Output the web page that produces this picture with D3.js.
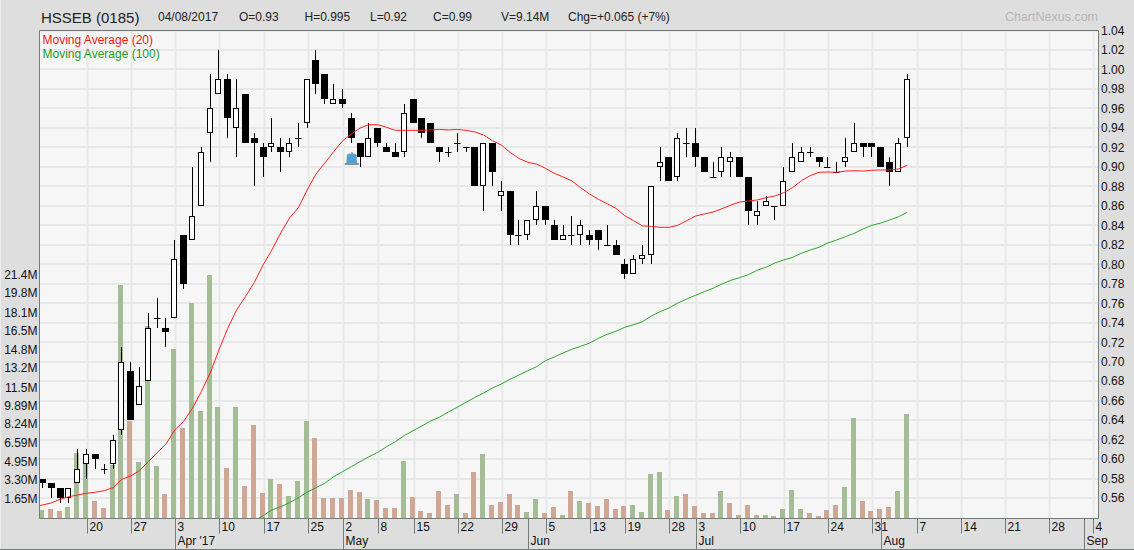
<!DOCTYPE html>
<html>
<head>
<meta charset="utf-8">
<script src="https://cdnjs.cloudflare.com/ajax/libs/d3/7.8.5/d3.min.js"></script>
<style>
html,body{margin:0;padding:0;background:#dedede;overflow:hidden}
svg{display:block}
text{font-family:"Liberation Sans",Arial,sans-serif}
</style>
</head>
<body>
<svg id="chart" width="1134" height="550"></svg>
<script>
const title = "HSSEB (0185)";
const headerTexts = ["04/08/2017","O=0.93","H=0.995","L=0.92","C=0.99","V=9.14M","Chg=+0.065 (+7%)"];
const open  = [.58,.575,.57,.56,.575,.595,.605,.59,.595,.63,.69,.655,.68,.745,.735,.745,.83,.825,.86,.935,.975,.99,.94,.975,.93,.92,.92,.92,.915,.93,.945,1.01,.995,.965,.97,.95,.925,.91,.94,.92,.915,.915,.97,.95,.945,.92,.915,.925,.92,.92,.88,.925,.87,.875,.83,.83,.845,.86,.84,.825,.83,.83,.83,.835,.82,.82,.80,.79,.805,.81,.90,.91,.89,.925,.925,.91,.89,.895,.905,.91,.89,.85,.86,.86,.86,.895,.905,.915,.91,.90,.895,.905,.915,.925,.925,.92,.905,.895,.93];
const high  = [.58,.575,.57,.57,.61,.61,.605,.595,.625,.715,.70,.695,.75,.765,.745,.825,.83,.90,.92,.995,1.02,.995,.99,.975,.935,.925,.95,.93,.93,.945,.99,1.02,.995,.985,.98,.955,.925,.945,.94,.925,.925,.965,.97,.95,.945,.92,.92,.935,.92,.92,.925,.925,.885,.875,.845,.845,.875,.86,.845,.84,.85,.845,.835,.835,.84,.825,.805,.81,.82,.88,.92,.91,.935,.94,.94,.91,.905,.92,.915,.91,.89,.865,.87,.86,.90,.925,.92,.92,.91,.91,.905,.93,.945,.925,.925,.92,.91,.93,.995];
const low   = [.57,.56,.555,.555,.575,.58,.59,.585,.59,.625,.64,.655,.68,.735,.715,.745,.775,.825,.86,.905,.975,.93,.91,.925,.88,.89,.915,.895,.91,.92,.94,.975,.965,.965,.96,.925,.90,.91,.92,.915,.91,.91,.945,.93,.925,.905,.91,.915,.915,.88,.855,.88,.855,.82,.82,.825,.84,.84,.825,.825,.82,.82,.82,.815,.82,.81,.785,.79,.80,.80,.885,.885,.885,.91,.90,.895,.89,.89,.89,.89,.84,.84,.86,.845,.86,.895,.905,.91,.90,.90,.895,.90,.915,.91,.91,.90,.88,.895,.92];
const close = [.575,.57,.56,.57,.59,.605,.60,.59,.62,.70,.64,.675,.735,.745,.73,.805,.78,.85,.915,.96,.99,.95,.96,.925,.925,.91,.925,.915,.925,.93,.99,.985,.97,.97,.965,.93,.91,.93,.925,.915,.91,.955,.945,.935,.925,.915,.915,.925,.92,.88,.925,.895,.875,.83,.83,.845,.86,.845,.825,.83,.83,.84,.825,.825,.82,.81,.79,.805,.81,.88,.905,.885,.93,.925,.91,.895,.89,.91,.91,.89,.855,.855,.865,.86,.885,.91,.915,.915,.905,.90,.895,.91,.925,.92,.92,.90,.895,.925,.99];
const volume = [.66,.75,.57,.93,5.69,5.52,1.46,.84,4.63,20.5,8.52,4.9,16.9,4.55,2.07,14.9,7.9,18.9,9.4,21.4,9.75,4.37,9.75,2.78,8.16,2.16,3.4,2.96,1.9,3.22,8.52,7.02,1.72,1.72,1.72,2.43,2.25,1.63,1.54,.84,.84,4.99,1.81,.57,.4,2.34,1.1,2.07,.4,4.02,5.6,1.1,1.37,2.07,1.1,.49,1.63,.4,.93,.22,2.34,1.46,1.28,1.02,1.63,.75,1.02,1.1,.49,3.84,4.02,.66,1.9,2.07,1.02,.4,.4,2.34,1.28,.22,1.1,.22,.22,.13,.75,2.43,.75,.4,.13,.66,1.1,2.69,8.78,1.46,.57,.75,.93,2.34,9.14];
// moving average readings: ma20 starts one session before the first candle, ma100 at session 24
const ma20 = [.551,.5528,.5549,.5587,.5613,.5631,.5648,.5659,.5675,.5706,.5792,.5826,.588,.5973,.6065,.6154,.6298,.6387,.6521,.6691,.688,.712,.7342,.753,.7667,.7811,.7992,.8146,.8321,.8475,.858,.8762,.8926,.9039,.9155,.9265,.9337,.9399,.9433,.9433,.9406,.9375,.9375,.9375,.9375,.9378,.9385,.9378,.9385,.9375,.9358,.9327,.9268,.9224,.9149,.9086,.9047,.9029,.8985,.8934,.8896,.8855,.8786,.8721,.8667,.8621,.8574,.8498,.8447,.8393,.839,.8379,.8379,.84,.8447,.8495,.8516,.8536,.857,.8608,.8639,.8649,.866,.8683,.8701,.8735,.8786,.8858,.8909,.8944,.8947,.8944,.8957,.896,.8957,.8965,.8968,.8968,.8978,.9016];
const ma100 = [.5364,.5418,.5477,.5511,.5552,.5603,.5659,.5706,.5751,.5819,.587,.5921,.5973,.6024,.6069,.6127,.6178,.624,.6291,.6339,.6391,.6429,.6483,.6531,.6583,.6632,.6678,.6729,.677,.6819,.6863,.6907,.6948,.701,.7048,.7089,.7127,.7158,.7191,.724,.7281,.7312,.7353,.7379,.741,.7469,.7513,.7551,.7602,.7643,.7681,.7718,.7753,.7797,.7835,.7862,.7893,.7938,.7969,.8013,.8044,.8071,.8112,.8146,.8174,.8218,.8249,.8283,.8318,.8362,.84,.8423,.8454,.8488,.8533];
const priceTicks = [.56,.58,.60,.62,.64,.66,.68,.70,.72,.74,.76,.78,.80,.82,.84,.86,.88,.90,.92,.94,.96,.98,1.00,1.02,1.04];
const volumeTicks = ["1.65M","3.30M","4.95M","6.59M","8.24M","9.89M","11.5M","13.2M","14.8M","16.5M","18.1M","19.8M","21.4M"];
const dayTickIndex = [5,10,15,20,25,30,34,38,42,47,52,57,62,66,71,74,79,84,89,94,99,104,109,114,119];
const dayTickLabels = ["20","27","3","10","17","25","2","8","15","22","29","5","13","19","28","3","10","17","24","31","7","14","21","28","4"];
const monthTickIndex = [15,34,55,74,95,118];
const monthTickLabels = ["Apr '17","May","Jun","Jul","Aug","Sep"];
const legendLabels = ["Moving Average (20)","Moving Average (100)"];
const bellIndex = 35, bellPrice = 0.905;

const W=1134,H=550,L=39.5,T=30.5,R=1098.5,B=518.5;
const svg=d3.select("#chart");
const x=d3.scaleLinear().domain([0,98]).range([42.4,907.25]);
const y=d3.scaleLinear().domain([.56,1.04]).range([498,30.5]);
const v=d3.scaleLinear().domain([0,21.4]).range([517.5,275]);
const snap=n=>Math.floor(n)+.5;
const tickX=i=>snap(x(i)+1);
const border="#6f7c78", gridC="#e8e8e8";

svg.append("rect").attr("width",W).attr("height",H).attr("fill","#dedede");
svg.append("rect").attr("width",1).attr("height",H).attr("fill","#ededed");
svg.append("line").attr("x1",0).attr("x2",W).attr("y1",549.5).attr("y2",549.5).attr("stroke",border);
svg.append("rect").attr("x",L).attr("y",T).attr("width",R-L).attr("height",B-T).attr("fill","#f6f6f6");

svg.append("defs").append("clipPath").attr("id","plot").append("rect").attr("x",L).attr("y",T).attr("width",R-L).attr("height",B-T);
const plot=svg.append("g").attr("clip-path","url(#plot)");

// grid
plot.selectAll("line.h").data(priceTicks).join("line").attr("x1",L).attr("x2",R)
  .attr("y1",d=>Math.round(y(d))).attr("y2",d=>Math.round(y(d))).attr("stroke",gridC).attr("stroke-width",2);
plot.selectAll("line.v").data(dayTickIndex).join("line").attr("x1",tickX).attr("x2",tickX).attr("y1",T).attr("y2",B)
  .attr("stroke",gridC).attr("stroke-width",2);

// volume
plot.selectAll("rect.vol").data(volume).join("rect").attr("class","vol")
  .attr("x",(d,i)=>Math.floor(x(i))-3).attr("width",5)
  .attr("y",d=>Math.round(v(d))).attr("height",d=>B-Math.round(v(d)))
  .attr("fill",(d,i)=>(i===0||close[i]>close[i-1])?"#a4bd96":"#cfa795");

// candles
const candles=plot.selectAll("g.c").data(close).join("g").attr("class","c");
candles.append("line").attr("x1",(d,i)=>snap(x(i))).attr("x2",(d,i)=>snap(x(i)))
  .attr("y1",(d,i)=>Math.round(y(high[i]))).attr("y2",(d,i)=>Math.round(y(low[i])))
  .attr("stroke","#000");
candles.each(function(d,i){
  const g=d3.select(this),c=snap(x(i));
  const top=Math.round(y(Math.max(open[i],close[i]))),bot=Math.round(y(Math.min(open[i],close[i])));
  if(close[i]>open[i]){
    g.append("rect").attr("x",c-3).attr("width",5).attr("y",top+.5).attr("height",bot-top-1)
      .attr("fill","#fff").attr("stroke","#000");
  }else if(close[i]<open[i]){
    g.append("rect").attr("x",c-3.5).attr("width",7).attr("y",top).attr("height",bot-top).attr("fill","#000");
  }else{
    g.append("line").attr("x1",c-3.5).attr("x2",c+3).attr("y1",top+.5).attr("y2",top+.5).attr("stroke","#000");
  }
});

// moving averages
const line20=d3.line().x((d,i)=>x(i-1)).y(d=>y(d));
const line100=d3.line().x((d,i)=>x(i+24)).y(d=>y(d));
plot.append("path").attr("d",line20(ma20)).attr("fill","none").attr("stroke","#ff1f1f").attr("stroke-width",1);
plot.append("path").attr("d",line100(ma100)).attr("fill","none").attr("stroke","#2fa52f").attr("stroke-width",1);

// alert bell
const bell=plot.append("g").attr("transform",`translate(${x(bellIndex)+.5},${y(bellPrice)-5})`);
bell.append("path").attr("d","M-5,6 L-4.6,-1.5 Q-4.4,-3 -3,-3 H3 Q4.4,-3 4.6,-1.5 L5,6 Z").attr("fill","#4aa3d4").attr("stroke","#8a9aa6").attr("stroke-width",.7);
bell.append("rect").attr("x",-7).attr("y",6).attr("width",14).attr("height",2).attr("fill","#7f96a6");
bell.append("rect").attr("x",-.5).attr("y",-5).attr("width",1.5).attr("height",2).attr("fill","#8a9aa6");

// frame
svg.append("path").attr("d",`M${L},${B}V${T}H${R}V${B}H${L}`).attr("fill","none").attr("stroke",border);

// right price axis
const axR=svg.append("g").attr("transform",`translate(${R},0)`)
  .call(d3.axisRight(y).tickValues(priceTicks).tickFormat(d3.format(".2f")).tickSize(0).tickPadding(2.5));
// left volume axis
const axL=svg.append("g").attr("transform",`translate(${L},0)`)
  .call(d3.axisLeft(v).tickValues(volumeTicks.map(parseFloat)).tickFormat((d,i)=>volumeTicks[i]).tickSize(0).tickPadding(2));
[axR,axL].forEach(a=>{a.select(".domain").remove();a.selectAll("text").attr("font-size",12).attr("font-family","Liberation Sans").attr("fill","#111");});

// date axis
svg.selectAll("line.d").data(dayTickIndex).join("line").attr("x1",tickX).attr("x2",tickX).attr("y1",B).attr("y2",533.5).attr("stroke",border);
svg.selectAll("text.d").data(dayTickLabels).join("text").attr("class","d")
  .attr("x",(d,i)=>tickX(dayTickIndex[i])+2).attr("y",531).attr("font-size",12).attr("fill","#111").text(d=>d);
svg.selectAll("line.m").data(monthTickIndex).join("line").attr("x1",tickX).attr("x2",tickX).attr("y1",B).attr("y2",549).attr("stroke",border);
svg.selectAll("text.m").data(monthTickLabels).join("text").attr("class","m")
  .attr("x",(d,i)=>tickX(monthTickIndex[i])+2).attr("y",545).attr("font-size",12).attr("fill","#111").text(d=>d);

// header
svg.append("text").attr("x",41).attr("y",23).attr("font-size",15).attr("fill","#222").text(title);
const headerX=[158,239,304.5,370,433,501,568];
svg.selectAll("text.h").data(headerTexts).join("text").attr("class","h")
  .attr("x",(d,i)=>headerX[i]).attr("y",21).attr("font-size",12).attr("fill","#222").text(d=>d);
svg.append("text").attr("x",1098).attr("y",21).attr("text-anchor","end").attr("font-size",12.5).attr("fill","#b6b6b6").text("ChartNexus.com");
svg.selectAll("text.l").data(legendLabels).join("text").attr("class","l")
  .attr("x",42.5).attr("y",(d,i)=>44+i*13.7).attr("font-size",12)
  .attr("fill",(d,i)=>i?"#1f9a1f":"#f01818").text(d=>d);
</script>
</body>
</html>
